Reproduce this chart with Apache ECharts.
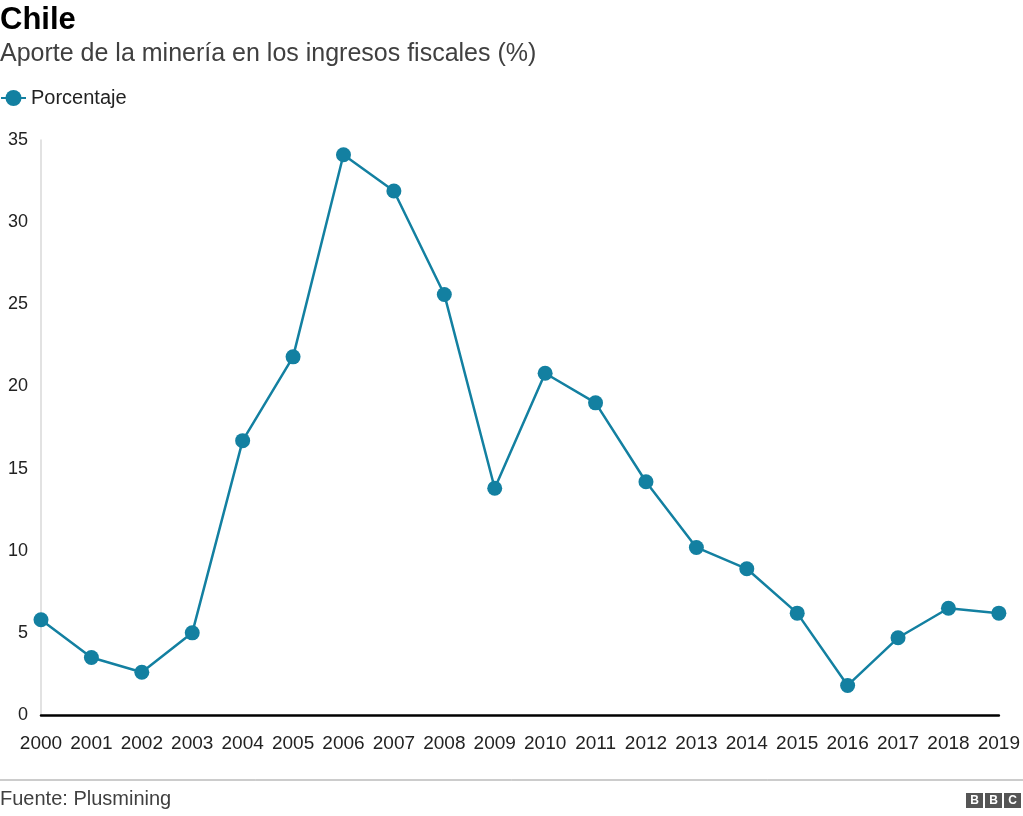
<!DOCTYPE html>
<html><head><meta charset="utf-8">
<script src="https://cdn.jsdelivr.net/npm/echarts@6/dist/echarts.min.js"></script>
<style>html,body{margin:0;padding:0;background:#fff}#c{width:1023px;height:816px}</style>
</head><body><div id="c"></div>
<script>
const years = ['2000','2001','2002','2003','2004','2005','2006','2007','2008','2009','2010','2011','2012','2013','2014','2015','2016','2017','2018','2019'];
const porcentaje = [5.8,3.5,2.6,5.0,16.7,21.8,34.1,31.9,25.6,13.8,20.8,19.0,14.2,10.2,8.9,6.2,1.8,4.7,6.5,6.2];
const yTicks = {min:0, max:35, interval:5};
const FONT = '"Liberation Sans", Arial, Helvetica, sans-serif';
const TEAL = '#1380A1';

const chart = echarts.init(document.getElementById('c'), null, {renderer:'canvas'});
chart.setOption({
  animation:false,
  textStyle:{fontFamily:FONT},
  title:[
    {text:'Chile', left:0, top:5, padding:0, textStyle:{fontFamily:FONT, fontSize:31, fontWeight:'bold', color:'#000'}},
    {text:'Aporte de la minería en los ingresos fiscales (%)', left:0, top:42, padding:0, textStyle:{fontFamily:FONT, fontSize:25, fontWeight:'normal', color:'#404040'}}
  ],
  legend:{left:0, top:88, padding:0, itemWidth:25, itemHeight:20, itemGap:7,
    textStyle:{fontFamily:FONT, fontSize:20, color:'#222'}, data:['Porcentaje']},
  grid:{left:41, right:23, top:140, bottom:101, containLabel:false},
  xAxis:{type:'category', data:years, boundaryGap:false,
    axisLine:{show:true, lineStyle:{color:'#000', width:2.5}},
    axisTick:{show:false},
    axisLabel:{fontFamily:FONT, fontSize:19, color:'#222', margin:19, interval:0}},
  yAxis:{type:'value', min:yTicks.min, max:yTicks.max, interval:yTicks.interval,
    axisLine:{show:true, lineStyle:{color:'#d9d9d9', width:1.5}},
    axisTick:{show:false}, splitLine:{show:false},
    axisLabel:{fontFamily:FONT, fontSize:18, color:'#222', margin:13}},
  series:[{name:'Porcentaje', type:'line', data:porcentaje,
    symbol:'circle', symbolSize:15, itemStyle:{color:TEAL},
    lineStyle:{color:TEAL, width:2.5}}],
  graphic:[
    {type:'line', shape:{x1:0,y1:780,x2:1023,y2:780}, style:{stroke:'#999', lineWidth:1}},
    {type:'text', left:0, top:789, style:{text:'Fuente: Plusmining', font:'20px '+FONT, fill:'#404040'}},
    {type:'group', left:966, top:793, children:[
      {type:'rect', shape:{x:0,y:0,width:17,height:15}, style:{fill:'#555'}},
      {type:'rect', shape:{x:19,y:0,width:17,height:15}, style:{fill:'#555'}},
      {type:'rect', shape:{x:38,y:0,width:17,height:15}, style:{fill:'#555'}},
      {type:'text', x:8.5, y:7.5, style:{text:'B', font:'bold 12px '+FONT, fill:'#fff', align:'center', verticalAlign:'middle'}},
      {type:'text', x:27.5, y:7.5, style:{text:'B', font:'bold 12px '+FONT, fill:'#fff', align:'center', verticalAlign:'middle'}},
      {type:'text', x:46.5, y:7.5, style:{text:'C', font:'bold 12px '+FONT, fill:'#fff', align:'center', verticalAlign:'middle'}}
    ]}
  ]
});
</script></body></html>
